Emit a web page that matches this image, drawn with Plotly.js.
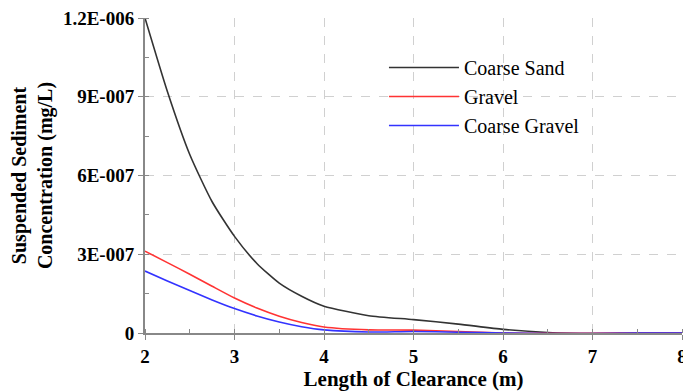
<!DOCTYPE html>
<html>
<head>
<meta charset="utf-8">
<script src="https://cdn.plot.ly/plotly-3.0.1.min.js"></script>
<style>html,body{margin:0;padding:0;background:#fff;}#chart{width:683px;height:391px;}</style>
</head>
<body>
<div id="chart"></div>
<script>
var clearance = [2, 2.25, 2.5, 2.75, 3, 3.25, 3.5, 3.75, 4, 4.5, 5, 5.5, 6, 6.5, 7, 7.5, 8];
var coarseSand = [1.2e-6, 0.92e-6, 0.68e-6, 0.50e-6, 0.368e-6, 0.265e-6, 0.19e-6, 0.14e-6, 0.102e-6, 0.066e-6, 0.051e-6, 0.034e-6, 0.014e-6, 0.002e-6, -0.002e-6, 0, 0];
var gravel = [0.312e-6, 0.268e-6, 0.224e-6, 0.178e-6, 0.133e-6, 0.095e-6, 0.064e-6, 0.040e-6, 0.023e-6, 0.012e-6, 0.011e-6, 0.006e-6, 0, -0.001e-6, -0.001e-6, 0, 0];
var coarseGravel = [0.236e-6, 0.198e-6, 0.162e-6, 0.126e-6, 0.093e-6, 0.065e-6, 0.042e-6, 0.024e-6, 0.012e-6, 0.004e-6, 0.006e-6, 0.003e-6, 0, -0.002e-6, -0.002e-6, 0, 0];
var seriesNames = ["Coarse Sand", "Gravel", "Coarse Gravel"];
var yTickVals = [0, 3e-7, 6e-7, 9e-7, 1.2e-6];
var yTickText = ["0", "3E-007", "6E-007", "9E-007", "1.2E-006"];
var xTickVals = [2, 3, 4, 5, 6, 7, 8];

var colors = ["#333333", "#ff3333", "#3333ff"];
var data = [coarseSand, gravel, coarseGravel].map(function (ys, i) {
  return {
    x: clearance, y: ys, name: seriesNames[i], type: "scatter", mode: "lines",
    line: {color: colors[i], width: 1.6, shape: "spline", smoothing: 0.6}
  };
});

var font = "Liberation Serif";
var layout = {
  width: 683, height: 391,
  margin: {l: 145, r: 1, t: 18, b: 58},
  paper_bgcolor: "#fff", plot_bgcolor: "#fff",
  font: {family: font, color: "#000"},
  showlegend: true,
  legend: {x: 0.445, y: 0.905, xanchor: "left", yanchor: "top", bgcolor: "rgba(0,0,0,0)",
           font: {family: font, size: 20, color: "#000"}, tracegroupgap: 0, itemwidth: 70},
  xaxis: {
    range: [2, 8], tickvals: xTickVals, ticktext: xTickVals.map(String),
    ticklabeloverflow: "allow",
    showline: true, linecolor: "#888", linewidth: 2,
    ticks: "outside", ticklen: 5, tickcolor: "#888", tickwidth: 1,
    showgrid: true, gridcolor: "#d0d0d0", griddash: "dash", gridwidth: 1,
    zeroline: false,
    tickfont: {family: font, size: 19, color: "#000", weight: "bold"},
    minor: {dtick: 0.5, ticks: "inside", ticklen: 4, tickcolor: "#888", showgrid: false},
    title: {text: "<b>Length of Clearance (m)</b>", font: {family: font, size: 21, color: "#000"}, standoff: 3}
  },
  yaxis: {
    range: [0, 1.2e-6], tickvals: yTickVals, ticktext: yTickText,
    showline: true, linecolor: "#888", linewidth: 2,
    ticks: "outside", ticklen: 5, tickcolor: "#888", tickwidth: 1,
    showgrid: true, gridcolor: "#d0d0d0", griddash: "dash", gridwidth: 1,
    zeroline: false,
    tickfont: {family: font, size: 19, color: "#000", weight: "bold"},
    minor: {dtick: 1.5e-7, ticks: "inside", ticklen: 4, tickcolor: "#888", showgrid: false},
    title: {text: "<b>Suspended Sediment<br>Concentration (mg/L)</b>", font: {family: font, size: 20, color: "#000"}, standoff: 5}
  }
};
Plotly.newPlot("chart", data, layout, {displayModeBar: false, staticPlot: true});
</script>
</body>
</html>
